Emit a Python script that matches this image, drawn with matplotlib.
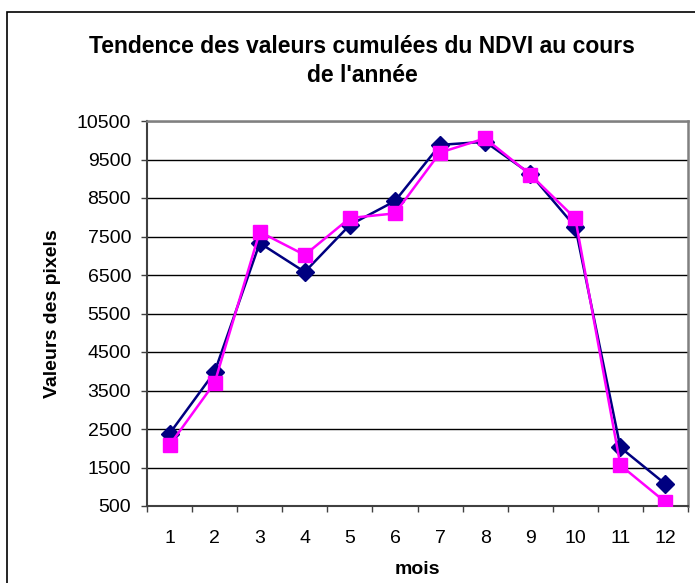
import matplotlib.pyplot as plt
import matplotlib.patches as patches
import numpy as np

plt.rcParams['font.family'] = ['Liberation Sans', 'DejaVu Sans']

# Monthly cumulative NDVI pixel values, two series
mois = [1, 2, 3, 4, 5, 6, 7, 8, 9, 10, 11, 12]
serie_bleue = [2380, 3980, 7330, 6580, 7800, 8420, 9880, 9960, 9130, 7750, 2020, 1070]
serie_rose = [2080, 3700, 7620, 7020, 7980, 8100, 9680, 10050, 9110, 7970, 1560, 600]
y_ticks = list(range(500, 10501, 1000))

fig = plt.figure(figsize=(6.95, 5.83), dpi=100)

# Outer chart frame
fig.patches.append(patches.Rectangle((7 / 695, -0.05), 1.0, 1 - 12 / 583 + 0.05,
                                     transform=fig.transFigure, fill=False,
                                     edgecolor='black', linewidth=1.2))

ax = fig.add_axes([147 / 695, 77 / 583, 541 / 695, 385 / 583])

ax.plot(mois, serie_bleue, color='#000080', linewidth=1.8, marker='D',
        markersize=9, zorder=3)
ax.plot(mois, serie_rose, color='#FF00FF', linewidth=1.8, marker='s',
        markersize=10.5, zorder=4)

ax.set_xlim(0.5, 12.5)
ax.set_ylim(500, 10500)
ax.set_yticks(y_ticks)
ax.set_yticklabels([str(v) for v in y_ticks], fontsize=14)
ax.set_xticks(mois)
ax.set_xticklabels([str(m) for m in mois], fontsize=14)
ax.set_xticks(np.arange(0.5, 13, 1), minor=True)
ax.tick_params(axis='x', which='major', length=0, pad=17)
ax.tick_params(axis='x', which='minor', length=4.5, width=1, color='#404040')
ax.tick_params(axis='y', length=4.5, width=1, color='#404040', pad=7)

ax.yaxis.grid(True, color='black', linewidth=1)
ax.set_axisbelow(True)

for side in ['top', 'right']:
    ax.spines[side].set_color('#808080')
    ax.spines[side].set_linewidth(1.8)
for side in ['left', 'bottom']:
    ax.spines[side].set_color('#404040')
    ax.spines[side].set_linewidth(1.5)

ax.set_xlabel('mois', fontsize=14, fontweight='bold', labelpad=10)
ax.set_ylabel('Valeurs des pixels', fontsize=14, fontweight='bold', labelpad=11)

fig.text(0.521, 1 - 61 / 583, "Tendence des valeurs cumulées du NDVI au cours\nde l'année",
         ha='center', va='center', fontsize=16.5, fontweight='bold', linespacing=1.3)

fig.savefig('out.png', dpi=100)
